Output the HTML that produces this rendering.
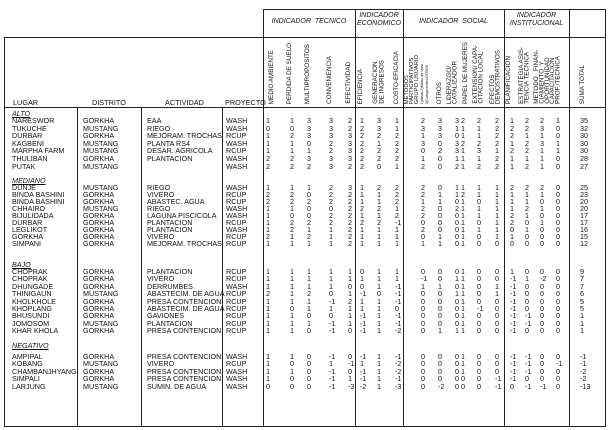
<!DOCTYPE html>
<html><head><meta charset="utf-8"><style>
*{margin:0;padding:0;box-sizing:border-box}
html,body{width:608px;height:430px;background:#fff;overflow:hidden}
body{position:relative;font-family:"Liberation Sans",Arial,sans-serif;color:#111}
.l{position:absolute;background:#222}
.r{position:absolute;left:0;width:608px;height:8px;font-size:7.2px;line-height:8px}
.r span{position:absolute;top:0;white-space:nowrap}
.a{left:12px}.b{left:83px}.c{left:147px}.d{left:226px}
.n1{left:266px}.n2{left:290px}.n3{left:307px}.n4{left:329px}.n5{left:348px}
.e1{left:360px}.e2{left:377px}.e3{left:395px}
.s1{left:421px}.s2{left:438px}.s3{left:455px}.s4{left:461px}.s5{left:477px}.s6{left:495px}
.i1{left:510px}.i2{left:525px}.i3{left:540px}.i4{left:556px}.t{left:580px}
.sec{font-style:italic;text-decoration:underline}
.v{position:absolute;bottom:326px;writing-mode:vertical-rl;transform:rotate(180deg);font-size:6.3px;line-height:6.3px;white-space:nowrap;text-align:left}
.ind{position:absolute;top:12px;font-size:7px;font-style:italic;text-align:center;line-height:8px}
.hd{position:absolute;top:98px;font-size:7.3px}
</style></head><body>
<div class="l" style="left:263px;top:9px;width:343px;height:1px"></div>
<div class="l" style="left:4px;top:37px;width:602px;height:1px"></div>
<div class="l" style="left:4px;top:107px;width:602px;height:1px"></div>
<div class="l" style="left:4px;top:426px;width:602px;height:1px"></div>
<div class="l" style="left:4px;top:37px;width:1px;height:390px"></div>
<div class="l" style="left:605px;top:9px;width:1px;height:418px"></div>
<div class="l" style="left:263px;top:9px;width:1px;height:418px"></div>
<div class="l" style="left:355px;top:9px;width:1px;height:418px"></div>
<div class="l" style="left:403px;top:9px;width:1px;height:418px"></div>
<div class="l" style="left:504px;top:9px;width:1px;height:418px"></div>
<div class="l" style="left:569px;top:9px;width:1px;height:418px"></div>
<div class="l" style="left:77px;top:107px;width:1px;height:320px"></div>
<div class="l" style="left:141px;top:107px;width:1px;height:320px"></div>
<div class="l" style="left:222px;top:107px;width:1px;height:320px"></div>

<div class="ind" style="left:263px;width:92px;top:18px">INDICADOR&nbsp;&nbsp;TECNICO</div>
<div class="ind" style="left:355px;width:48px">INDICADOR<br>ECONOMICO</div>
<div class="ind" style="left:403px;width:101px;top:18px">INDICADOR&nbsp;&nbsp;SOCIAL</div>
<div class="ind" style="left:504px;width:65px">INDICADOR<br>INSTITUCIONAL</div>

<div class="hd" style="left:13px">LUGAR</div>
<div class="hd" style="left:92px">DISTRITO</div>
<div class="hd" style="left:165px">ACTIVIDAD</div>
<div class="hd" style="left:225px">PROYECTO</div>

<div class="v" style="left:269px">MEDIO AMBIENTE</div>
<div class="v" style="left:287px">PERDIDA DE SUELO</div>
<div class="v" style="left:305px">MULTIPROPOSITOS</div>
<div class="v" style="left:327px">CONVENIENCIA</div>
<div class="v" style="left:346px">EFECTIVIDAD</div>
<div class="v" style="left:358px">EFICIENCIA</div>
<div class="v" style="left:373px">GENERACION<br>DE INGRESOS</div>
<div class="v" style="left:394px">COSTO-EFICACIA</div>
<div class="v" style="left:405px;font-size:5.8px;line-height:5px">METODOS<br>PARTICIPATIVOS<br>GRUPO USUARIO<br><span style="font-size:3.8px">1)ideas 2)Mano de obra</span><br><span style="font-size:3.8px">3)Compromiso/OTROS</span></div>
<div class="v" style="left:437px">OTROS</div>
<div class="v" style="left:447px;line-height:5.6px">LIDERAZGO/<br>CATALIZADOR</div>
<div class="v" style="left:463px">PAPEL DE MUJERES</div>
<div class="v" style="left:473px;line-height:5.6px">EXTENSION/ CAPA-<br>CITACION LOCAL</div>
<div class="v" style="left:490px;line-height:5.6px">EFECTOS<br>DEMOSTRATIVOS</div>
<div class="v" style="left:506px">PLANIFICACION</div>
<div class="v" style="left:519px;line-height:5.6px">ESTRATEGIA ASIS-<br>TENCIA TECNICA</div>
<div class="v" style="left:534px;line-height:5.4px">METODO&nbsp;&nbsp;&nbsp;FINAN-<br>CIAMIENTO&nbsp;&nbsp;Y<br>OPORTUNIDAD</div>
<div class="v" style="left:550px;line-height:5.6px">CAPACITACION<br>PROF./TECNICA</div>
<div class="v" style="left:580px">SUMA TOTAL</div>

<div class="r" style="top:110px"><span class="a sec">ALTO</span></div>
<div class="r" style="top:117px"><span class="a">NARESWOR</span><span class="b">GORKHA</span><span class="c">EAA</span><span class="d">WASH</span><span class="n1">1</span><span class="n2">1</span><span class="n3">3</span><span class="n4">3</span><span class="n5">2</span><span class="e1">1</span><span class="e2">3</span><span class="e3">1</span><span class="s1">2</span><span class="s2">3</span><span class="s3">3</span><span class="s4">2</span><span class="s5">2</span><span class="s6">2</span><span class="i1">1</span><span class="i2">2</span><span class="i3">2</span><span class="i4">1</span><span class="t">35</span></div>
<div class="r" style="top:124.6px"><span class="a">TUKUCHE</span><span class="b">MUSTANG</span><span class="c">RIEGO</span><span class="d">WASH</span><span class="n1">0</span><span class="n2">0</span><span class="n3">3</span><span class="n4">3</span><span class="n5">2</span><span class="e1">2</span><span class="e2">3</span><span class="e3">1</span><span class="s1">3</span><span class="s2">3</span><span class="s3">1</span><span class="s4">1</span><span class="s5">1</span><span class="s6">2</span><span class="i1">2</span><span class="i2">2</span><span class="i3">3</span><span class="i4">0</span><span class="t">32</span></div>
<div class="r" style="top:132.2px"><span class="a">DURBAR</span><span class="b">GORKHA</span><span class="c">MEJORAM. TROCHAS</span><span class="d">RCUP</span><span class="n1">1</span><span class="n2">2</span><span class="n3">3</span><span class="n4">3</span><span class="n5">3</span><span class="e1">2</span><span class="e2">2</span><span class="e3">2</span><span class="s1">1</span><span class="s2">3</span><span class="s3">0</span><span class="s4">1</span><span class="s5">1</span><span class="s6">2</span><span class="i1">2</span><span class="i2">1</span><span class="i3">1</span><span class="i4">0</span><span class="t">30</span></div>
<div class="r" style="top:139.8px"><span class="a">KAGBENI</span><span class="b">MUSTANG</span><span class="c">PLANTA RS4</span><span class="d">WASH</span><span class="n1">1</span><span class="n2">1</span><span class="n3">0</span><span class="n4">2</span><span class="n5">3</span><span class="e1">2</span><span class="e2">1</span><span class="e3">2</span><span class="s1">3</span><span class="s2">0</span><span class="s3">3</span><span class="s4">2</span><span class="s5">2</span><span class="s6">2</span><span class="i1">1</span><span class="i2">2</span><span class="i3">3</span><span class="i4">1</span><span class="t">30</span></div>
<div class="r" style="top:147.4px"><span class="a">MARPHA FARM</span><span class="b">MUSTANG</span><span class="c">DESAR. AGRICOLA</span><span class="d">RCUP</span><span class="n1">1</span><span class="n2">1</span><span class="n3">1</span><span class="n4">2</span><span class="n5">3</span><span class="e1">2</span><span class="e2">2</span><span class="e3">2</span><span class="s1">0</span><span class="s2">2</span><span class="s3">3</span><span class="s4">1</span><span class="s5">3</span><span class="s6">1</span><span class="i1">2</span><span class="i2">2</span><span class="i3">1</span><span class="i4">1</span><span class="t">30</span></div>
<div class="r" style="top:155px"><span class="a">THULIBAN</span><span class="b">GORKHA</span><span class="c">PLANTACION</span><span class="d">WASH</span><span class="n1">2</span><span class="n2">2</span><span class="n3">3</span><span class="n4">3</span><span class="n5">3</span><span class="e1">2</span><span class="e2">2</span><span class="e3">2</span><span class="s1">1</span><span class="s2">0</span><span class="s3">1</span><span class="s4">1</span><span class="s5">1</span><span class="s6">2</span><span class="i1">1</span><span class="i2">1</span><span class="i3">1</span><span class="i4">0</span><span class="t">28</span></div>
<div class="r" style="top:162.6px"><span class="a">PUTAK</span><span class="b">MUSTANG</span><span class="d">WASH</span><span class="n1">2</span><span class="n2">2</span><span class="n3">2</span><span class="n4">3</span><span class="n5">2</span><span class="e1">2</span><span class="e2">0</span><span class="e3">1</span><span class="s1">2</span><span class="s2">0</span><span class="s3">2</span><span class="s4">1</span><span class="s5">2</span><span class="s6">2</span><span class="i1">1</span><span class="i2">2</span><span class="i3">1</span><span class="i4">0</span><span class="t">27</span></div>

<div class="r" style="top:177px"><span class="a sec">MEDIANO</span></div>
<div class="r" style="top:184px"><span class="a">DUNJE</span><span class="b">MUSTANG</span><span class="c">RIEGO</span><span class="d">WASH</span><span class="n1">1</span><span class="n2">1</span><span class="n3">1</span><span class="n4">2</span><span class="n5">3</span><span class="e1">1</span><span class="e2">2</span><span class="e3">2</span><span class="s1">2</span><span class="s2">0</span><span class="s3">1</span><span class="s4">1</span><span class="s5">1</span><span class="s6">1</span><span class="i1">2</span><span class="i2">2</span><span class="i3">2</span><span class="i4">0</span><span class="t">25</span></div>
<div class="r" style="top:191px"><span class="a">BINDA BASHINI</span><span class="b">GORKHA</span><span class="c">VIVERO</span><span class="d">RCUP</span><span class="n1">2</span><span class="n2">2</span><span class="n3">0</span><span class="n4">2</span><span class="n5">2</span><span class="e1">1</span><span class="e2">1</span><span class="e3">2</span><span class="s1">2</span><span class="s2">1</span><span class="s3">1</span><span class="s4">2</span><span class="s5">1</span><span class="s6">1</span><span class="i1">1</span><span class="i2">1</span><span class="i3">1</span><span class="i4">0</span><span class="t">23</span></div>
<div class="r" style="top:198px"><span class="a">BINDA BASHINI</span><span class="b">GORKHA</span><span class="c">ABASTEC. AGUA</span><span class="d">RCUP</span><span class="n1">2</span><span class="n2">2</span><span class="n3">2</span><span class="n4">2</span><span class="n5">2</span><span class="e1">1</span><span class="e2">1</span><span class="e3">2</span><span class="s1">1</span><span class="s2">1</span><span class="s3">0</span><span class="s4">1</span><span class="s5">0</span><span class="s6">1</span><span class="i1">1</span><span class="i2">1</span><span class="i3">0</span><span class="i4">0</span><span class="t">20</span></div>
<div class="r" style="top:205px"><span class="a">CHHAIRO</span><span class="b">MUSTANG</span><span class="c">RIEGO</span><span class="d">WASH</span><span class="n1">1</span><span class="n2">1</span><span class="n3">0</span><span class="n4">0</span><span class="n5">2</span><span class="e1">2</span><span class="e2">2</span><span class="e3">1</span><span class="s1">2</span><span class="s2">0</span><span class="s3">2</span><span class="s4">1</span><span class="s5">1</span><span class="s6">1</span><span class="i1">1</span><span class="i2">2</span><span class="i3">1</span><span class="i4">0</span><span class="t">20</span></div>
<div class="r" style="top:212px"><span class="a">BIJULIDADA</span><span class="b">GORKHA</span><span class="c">LAGUNA PISCICOLA</span><span class="d">WASH</span><span class="n1">1</span><span class="n2">0</span><span class="n3">0</span><span class="n4">2</span><span class="n5">2</span><span class="e1">1</span><span class="e2">1</span><span class="e3">2</span><span class="s1">2</span><span class="s2">0</span><span class="s3">0</span><span class="s4">1</span><span class="s5">1</span><span class="s6">1</span><span class="i1">2</span><span class="i2">1</span><span class="i3">0</span><span class="i4">0</span><span class="t">17</span></div>
<div class="r" style="top:219px"><span class="a">DURBAR</span><span class="b">GORKHA</span><span class="c">PLANTACION</span><span class="d">RCUP</span><span class="n1">1</span><span class="n2">2</span><span class="n3">2</span><span class="n4">2</span><span class="n5">2</span><span class="e1">2</span><span class="e2">2</span><span class="e3">-1</span><span class="s1">0</span><span class="s2">0</span><span class="s3">0</span><span class="s4">1</span><span class="s5">0</span><span class="s6">1</span><span class="i1">2</span><span class="i2">0</span><span class="i3">1</span><span class="i4">0</span><span class="t">17</span></div>
<div class="r" style="top:226px"><span class="a">LEGLIKOT</span><span class="b">GORKHA</span><span class="c">PLANTACION</span><span class="d">WASH</span><span class="n1">1</span><span class="n2">2</span><span class="n3">1</span><span class="n4">1</span><span class="n5">2</span><span class="e1">1</span><span class="e2">1</span><span class="e3">1</span><span class="s1">2</span><span class="s2">0</span><span class="s3">0</span><span class="s4">1</span><span class="s5">1</span><span class="s6">1</span><span class="i1">0</span><span class="i2">1</span><span class="i3">0</span><span class="i4">0</span><span class="t">16</span></div>
<div class="r" style="top:233px"><span class="a">GORKHA</span><span class="b">GORKHA</span><span class="c">VIVERO</span><span class="d">RCUP</span><span class="n1">2</span><span class="n2">1</span><span class="n3">2</span><span class="n4">1</span><span class="n5">2</span><span class="e1">1</span><span class="e2">1</span><span class="e3">1</span><span class="s1">0</span><span class="s2">1</span><span class="s3">0</span><span class="s4">1</span><span class="s5">0</span><span class="s6">1</span><span class="i1">1</span><span class="i2">0</span><span class="i3">0</span><span class="i4">0</span><span class="t">15</span></div>
<div class="r" style="top:240px"><span class="a">SIMPANI</span><span class="b">GORKHA</span><span class="c">MEJORAM. TROCHAS</span><span class="d">RCUP</span><span class="n1">1</span><span class="n2">1</span><span class="n3">1</span><span class="n4">1</span><span class="n5">2</span><span class="e1">1</span><span class="e2">1</span><span class="e3">1</span><span class="s1">1</span><span class="s2">1</span><span class="s3">0</span><span class="s4">1</span><span class="s5">0</span><span class="s6">0</span><span class="i1">0</span><span class="i2">0</span><span class="i3">0</span><span class="i4">0</span><span class="t">12</span></div>

<div class="r" style="top:261px"><span class="a sec">BAJO</span></div>
<div class="r" style="top:268px"><span class="a">CHOPRAK</span><span class="b">GORKHA</span><span class="c">PLANTACION</span><span class="d">RCUP</span><span class="n1">1</span><span class="n2">1</span><span class="n3">1</span><span class="n4">1</span><span class="n5">1</span><span class="e1">0</span><span class="e2">1</span><span class="e3">1</span><span class="s1">0</span><span class="s2">0</span><span class="s3">0</span><span class="s4">1</span><span class="s5">0</span><span class="s6">0</span><span class="i1">1</span><span class="i2">0</span><span class="i3">0</span><span class="i4">0</span><span class="t">9</span></div>
<div class="r" style="top:275.4px"><span class="a">CHOPRAK</span><span class="b">GORKHA</span><span class="c">VIVERO</span><span class="d">RCUP</span><span class="n1">1</span><span class="n2">1</span><span class="n3">1</span><span class="n4">1</span><span class="n5">1</span><span class="e1">1</span><span class="e2">1</span><span class="e3">1</span><span class="s1">-1</span><span class="s2">0</span><span class="s3">1</span><span class="s4">1</span><span class="s5">0</span><span class="s6">0</span><span class="i1">-1</span><span class="i2">1</span><span class="i3">-2</span><span class="i4">0</span><span class="t">7</span></div>
<div class="r" style="top:282.8px"><span class="a">DHUNGADE</span><span class="b">GORKHA</span><span class="c">DERRUMBES</span><span class="d">WASH</span><span class="n1">1</span><span class="n2">1</span><span class="n3">1</span><span class="n4">1</span><span class="n5">0</span><span class="e1">0</span><span class="e2">1</span><span class="e3">-1</span><span class="s1">1</span><span class="s2">1</span><span class="s3">0</span><span class="s4">1</span><span class="s5">0</span><span class="s6">1</span><span class="i1">-1</span><span class="i2">0</span><span class="i3">0</span><span class="i4">0</span><span class="t">7</span></div>
<div class="r" style="top:290.2px"><span class="a">THINIGAUN</span><span class="b">MUSTANG</span><span class="c">ABASTECIM. DE AGUA</span><span class="d">RCUP</span><span class="n1">2</span><span class="n2">1</span><span class="n3">2</span><span class="n4">0</span><span class="n5">1</span><span class="e1">-1</span><span class="e2">0</span><span class="e3">-1</span><span class="s1">0</span><span class="s2">0</span><span class="s3">1</span><span class="s4">1</span><span class="s5">0</span><span class="s6">1</span><span class="i1">-1</span><span class="i2">0</span><span class="i3">0</span><span class="i4">0</span><span class="t">6</span></div>
<div class="r" style="top:297.6px"><span class="a">KHOLKHOLE</span><span class="b">GORKHA</span><span class="c">PRESA CONTENCION</span><span class="d">RCUP</span><span class="n1">1</span><span class="n2">1</span><span class="n3">1</span><span class="n4">-1</span><span class="n5">2</span><span class="e1">1</span><span class="e2">1</span><span class="e3">-1</span><span class="s1">0</span><span class="s2">0</span><span class="s3">0</span><span class="s4">1</span><span class="s5">0</span><span class="s6">0</span><span class="i1">-1</span><span class="i2">0</span><span class="i3">0</span><span class="i4">0</span><span class="t">5</span></div>
<div class="r" style="top:305px"><span class="a">KHOPLANG</span><span class="b">GORKHA</span><span class="c">ABASTECIM. DE AGUA</span><span class="d">RCUP</span><span class="n1">1</span><span class="n2">0</span><span class="n3">1</span><span class="n4">1</span><span class="n5">1</span><span class="e1">1</span><span class="e2">1</span><span class="e3">0</span><span class="s1">0</span><span class="s2">0</span><span class="s3">0</span><span class="s4">1</span><span class="s5">-1</span><span class="s6">0</span><span class="i1">-1</span><span class="i2">0</span><span class="i3">0</span><span class="i4">0</span><span class="t">5</span></div>
<div class="r" style="top:312.4px"><span class="a">BHUSUNDI</span><span class="b">GORKHA</span><span class="c">GAVIONES</span><span class="d">RCUP</span><span class="n1">1</span><span class="n2">1</span><span class="n3">0</span><span class="n4">0</span><span class="n5">1</span><span class="e1">-1</span><span class="e2">1</span><span class="e3">-1</span><span class="s1">0</span><span class="s2">0</span><span class="s3">0</span><span class="s4">1</span><span class="s5">0</span><span class="s6">0</span><span class="i1">-1</span><span class="i2">-1</span><span class="i3">0</span><span class="i4">0</span><span class="t">1</span></div>
<div class="r" style="top:319.8px"><span class="a">JOMOSOM</span><span class="b">MUSTANG</span><span class="c">PLANTACION</span><span class="d">RCUP</span><span class="n1">1</span><span class="n2">1</span><span class="n3">1</span><span class="n4">-1</span><span class="n5">1</span><span class="e1">-1</span><span class="e2">1</span><span class="e3">-1</span><span class="s1">0</span><span class="s2">0</span><span class="s3">0</span><span class="s4">1</span><span class="s5">0</span><span class="s6">0</span><span class="i1">-1</span><span class="i2">-1</span><span class="i3">0</span><span class="i4">0</span><span class="t">1</span></div>
<div class="r" style="top:327.2px"><span class="a">KHAR KHOLA</span><span class="b">GORKHA</span><span class="c">PRESA CONTENCION</span><span class="d">RCUP</span><span class="n1">1</span><span class="n2">1</span><span class="n3">0</span><span class="n4">-1</span><span class="n5">0</span><span class="e1">-1</span><span class="e2">1</span><span class="e3">-2</span><span class="s1">0</span><span class="s2">1</span><span class="s3">1</span><span class="s4">1</span><span class="s5">0</span><span class="s6">0</span><span class="i1">-1</span><span class="i2">0</span><span class="i3">0</span><span class="i4">0</span><span class="t">1</span></div>

<div class="r" style="top:342px"><span class="a sec">NEGATIVO</span></div>
<div class="r" style="top:352.5px"><span class="a">AMPIPAL</span><span class="b">GORKHA</span><span class="c">PRESA CONTENCION</span><span class="d">WASH</span><span class="n1">1</span><span class="n2">1</span><span class="n3">0</span><span class="n4">-1</span><span class="n5">0</span><span class="e1">-1</span><span class="e2">1</span><span class="e3">-1</span><span class="s1">0</span><span class="s2">0</span><span class="s3">0</span><span class="s4">1</span><span class="s5">0</span><span class="s6">0</span><span class="i1">-1</span><span class="i2">-1</span><span class="i3">0</span><span class="i4">0</span><span class="t">-1</span></div>
<div class="r" style="top:360px"><span class="a">KOBANG</span><span class="b">MUSTANG</span><span class="c">VIVERO</span><span class="d">RCUP</span><span class="n1">1</span><span class="n2">0</span><span class="n3">0</span><span class="n4">1</span><span class="n5">-1</span><span class="e1">1</span><span class="e2">1</span><span class="e3">-2</span><span class="s1">0</span><span class="s2">0</span><span class="s3">0</span><span class="s4">1</span><span class="s5">0</span><span class="s6">0</span><span class="i1">-1</span><span class="i2">-1</span><span class="i3">0</span><span class="i4">-1</span><span class="t">-1</span></div>
<div class="r" style="top:367.5px"><span class="a">CHAMBANJHYANG</span><span class="b">GORKHA</span><span class="c">PRESA CONTENCION</span><span class="d">WASH</span><span class="n1">1</span><span class="n2">1</span><span class="n3">0</span><span class="n4">-1</span><span class="n5">0</span><span class="e1">-1</span><span class="e2">1</span><span class="e3">-2</span><span class="s1">0</span><span class="s2">0</span><span class="s3">0</span><span class="s4">1</span><span class="s5">0</span><span class="s6">0</span><span class="i1">-1</span><span class="i2">-1</span><span class="i3">0</span><span class="i4">0</span><span class="t">-2</span></div>
<div class="r" style="top:375px"><span class="a">SIMPALI</span><span class="b">GORKHA</span><span class="c">PRESA CONTENCION</span><span class="d">WASH</span><span class="n1">1</span><span class="n2">0</span><span class="n3">0</span><span class="n4">-1</span><span class="n5">1</span><span class="e1">-1</span><span class="e2">1</span><span class="e3">-1</span><span class="s1">0</span><span class="s2">0</span><span class="s3">0</span><span class="s4">0</span><span class="s5">0</span><span class="s6">-1</span><span class="i1">-1</span><span class="i2">0</span><span class="i3">0</span><span class="i4">0</span><span class="t">-2</span></div>
<div class="r" style="top:382.5px"><span class="a">LARJUNG</span><span class="b">MUSTANG</span><span class="c">SUMIN. DE AGUA</span><span class="d">WASH</span><span class="n1">0</span><span class="n2">0</span><span class="n3">0</span><span class="n4">-1</span><span class="n5">-3</span><span class="e1">-2</span><span class="e2">1</span><span class="e3">-3</span><span class="s1">0</span><span class="s2">-2</span><span class="s3">0</span><span class="s4">0</span><span class="s5">0</span><span class="s6">-1</span><span class="i1">0</span><span class="i2">-1</span><span class="i3">-1</span><span class="i4">0</span><span class="t">-13</span></div>
</body></html>
